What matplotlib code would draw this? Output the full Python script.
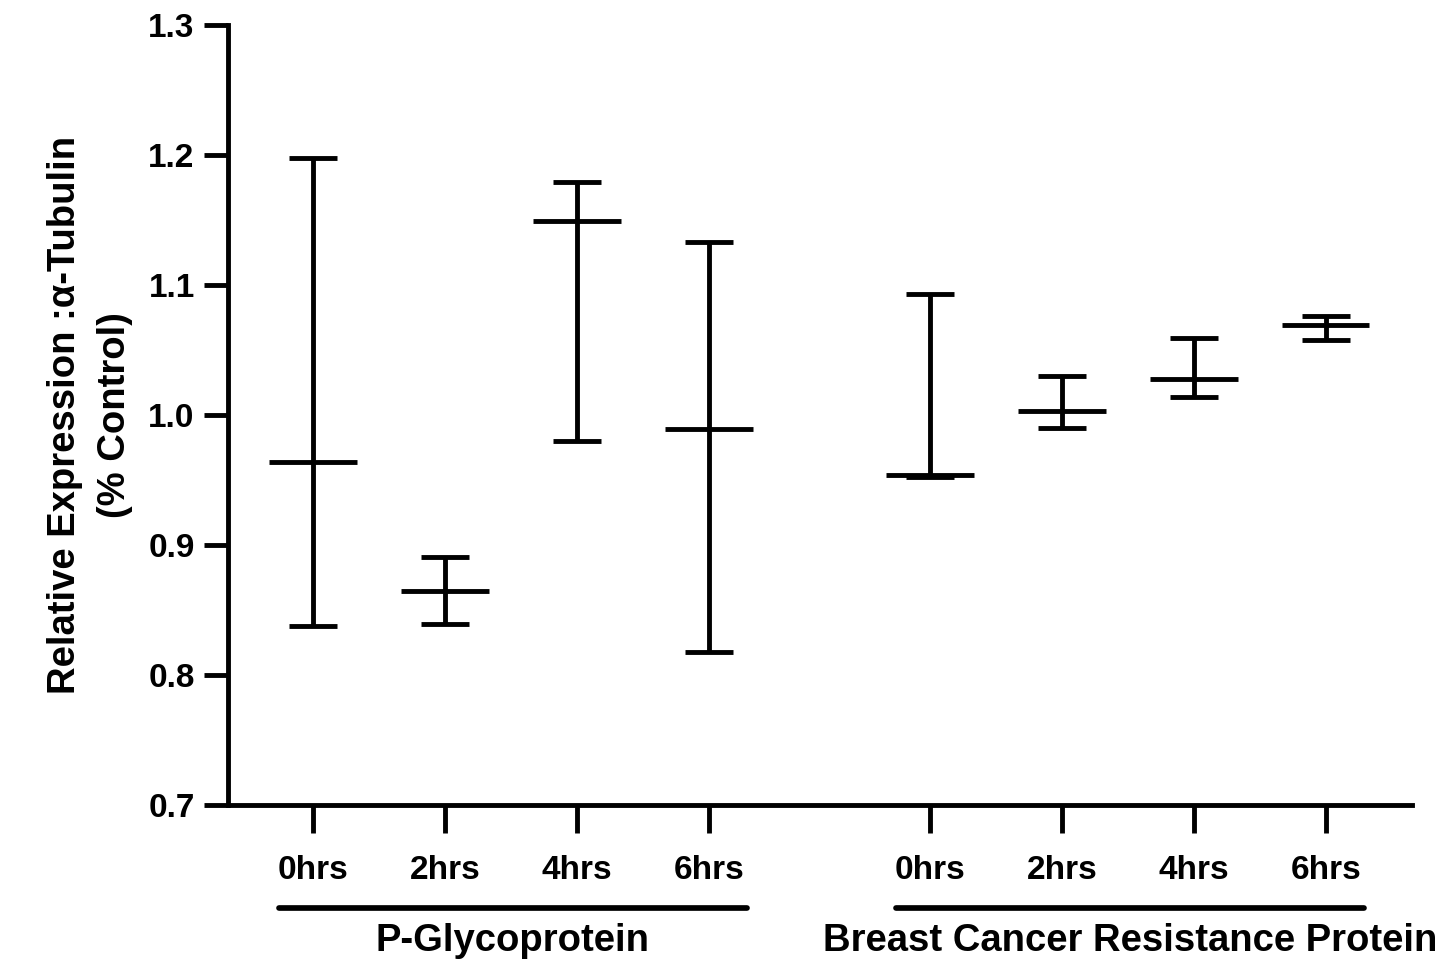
import numpy as np
import matplotlib
matplotlib.use("Agg")
import matplotlib.pyplot as plt
import matplotlib.transforms as mtransforms

plt.rcParams["font.family"] = ["Liberation Sans", "DejaVu Sans"]
plt.rcParams["font.weight"] = "bold"

# relative expression, mean with upper / lower range
time_labels = ["0hrs", "2hrs", "4hrs", "6hrs"]
groups = ["P-Glycoprotein", "Breast Cancer Resistance Protein"]

pgp_mean = [0.964, 0.865, 1.149, 0.989]
pgp_upper = [1.198, 0.891, 1.179, 1.133]
pgp_lower = [0.838, 0.839, 0.980, 0.818]

bcrp_mean = [0.954, 1.003, 1.028, 1.069]
bcrp_upper = [1.093, 1.030, 1.059, 1.076]
bcrp_lower = [0.952, 0.990, 1.014, 1.058]

yticks = [0.7, 0.8, 0.9, 1.0, 1.1, 1.2, 1.3]

LW = 3.5
GAP = 4.674  # offset of the second group on the x axis

fig = plt.figure(figsize=(14.56, 9.73), dpi=100)
ax = fig.add_axes([228 / 1456, 1 - 805 / 973, (1412 - 228) / 1456, (805 - 25) / 973])

x_pgp = np.arange(1, 5)
x_bcrp = x_pgp + GAP

for x, m, up, lo in [(x_pgp, pgp_mean, pgp_upper, pgp_lower),
                     (x_bcrp, bcrp_mean, bcrp_upper, bcrp_lower)]:
    m = np.array(m)
    yerr = [m - np.array(lo), np.array(up) - m]
    ax.errorbar(x, m, yerr=yerr, fmt="none", ecolor="black",
                elinewidth=LW, capsize=17.5, capthick=LW)
    ax.hlines(m, x - 0.33, x + 0.33, colors="black", linewidth=LW)

ax.set_xlim(0.356, 9.326)
ax.set_ylim(0.7, 1.3)
ax.set_yticks(yticks)
ax.set_yticklabels([f"{t:.1f}" for t in yticks])
ax.set_xticks(np.concatenate([x_pgp, x_bcrp]))
ax.set_xticklabels(time_labels * 2)

for side in ["top", "right"]:
    ax.spines[side].set_visible(False)
for side in ["left", "bottom"]:
    ax.spines[side].set_linewidth(LW)

ax.tick_params(axis="both", width=LW, length=17, labelsize=24, direction="out")
ax.tick_params(axis="x", length=20, pad=16)
ax.tick_params(axis="y", pad=7)

ax.set_ylabel("Relative Expression :\u03b1-Tubulin\n(% Control)",
              fontsize=27.5, fontweight="bold", linespacing=1.5)
ax.yaxis.set_label_coords(-0.08, 0.5)

# group brackets under the time labels
trans = mtransforms.blended_transform_factory(ax.transData, ax.transAxes)
for x, name in [(x_pgp, groups[0]), (x_bcrp, groups[1])]:
    x0, x1 = x[0] - 0.255, x[-1] + 0.285
    ax.plot([x0, x1], [-0.132, -0.132], color="black", linewidth=LW + 0.6,
            solid_capstyle="round", transform=trans, clip_on=False)
    ax.text((x0 + x1) / 2, -0.174, name, transform=trans, ha="center",
            va="center", fontsize=27.5, fontweight="bold")

fig.savefig("out.png", dpi=100, facecolor="white")
